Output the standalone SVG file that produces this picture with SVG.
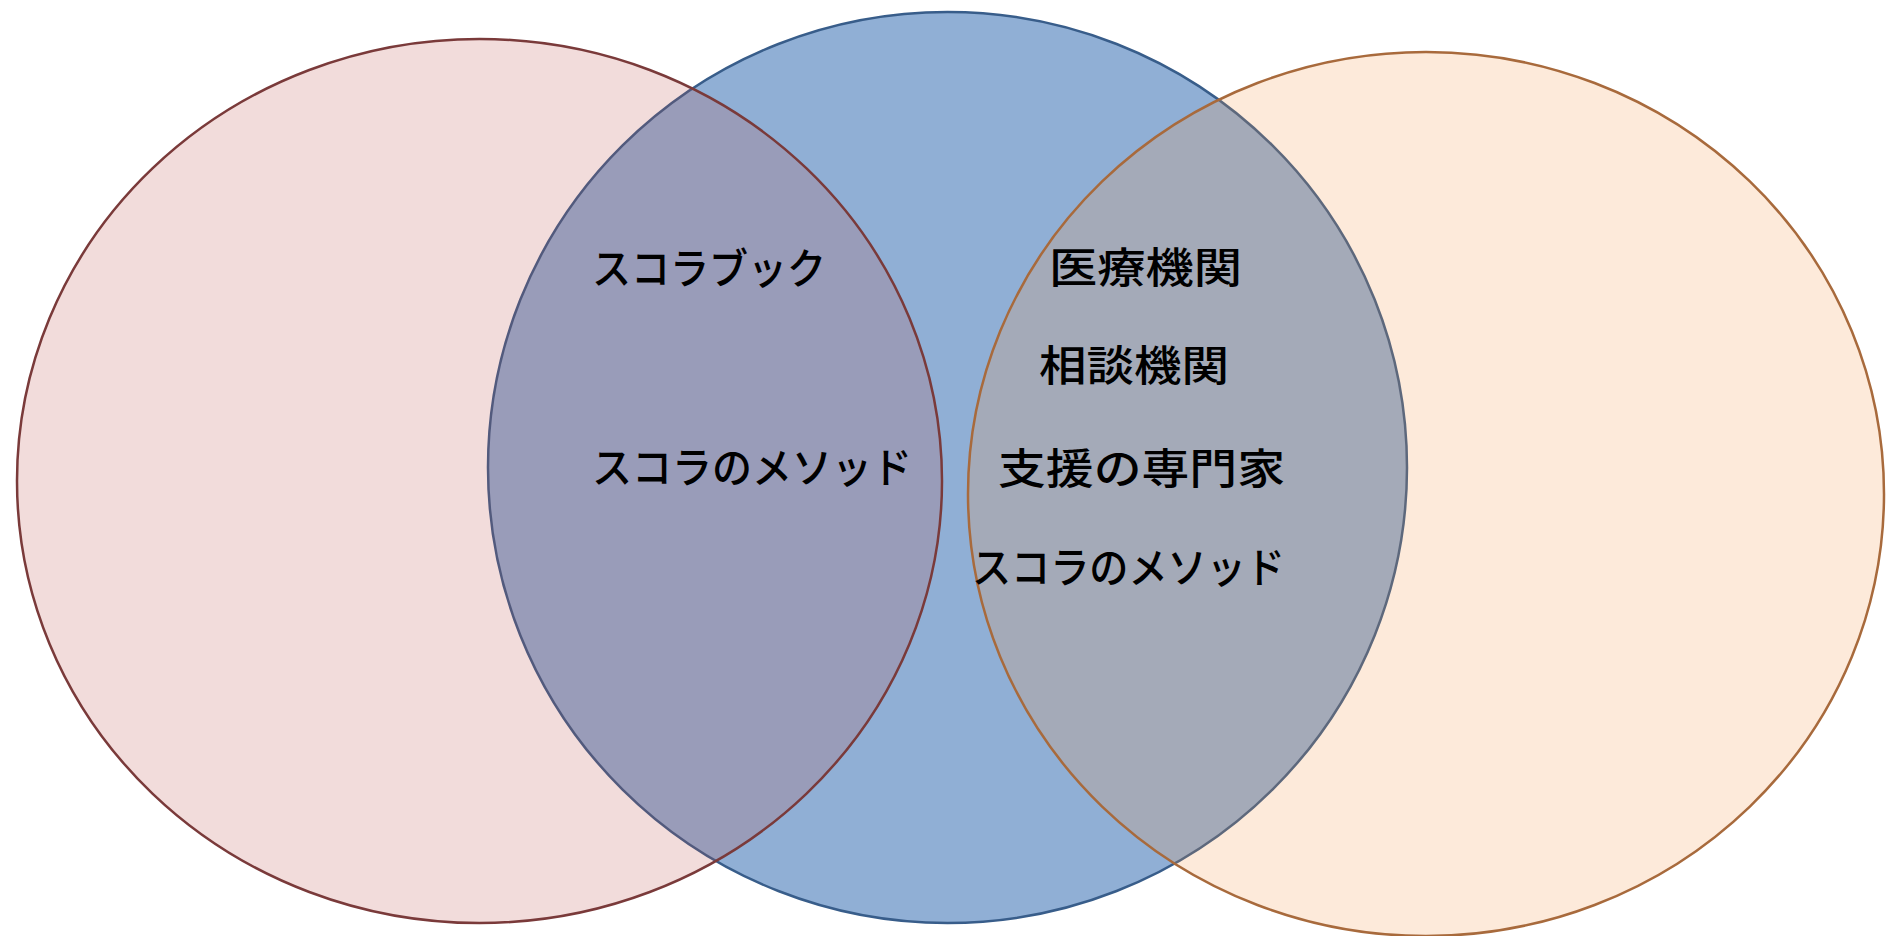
<svg xmlns="http://www.w3.org/2000/svg" width="1890" height="936" viewBox="0 0 1890 936">
<style>
  .lbl { font-family: "Noto Sans CJK JP", "Noto Sans CJK SC", sans-serif; font-size: 42px; font-weight: 500; fill: #000; dominant-baseline: central; }
</style>
<rect width="1890" height="936" fill="#ffffff"/>
<g id="set-middle">
  <ellipse cx="947.5" cy="467.5" rx="459.5" ry="455.5" fill="#4F81BD" fill-opacity="0.63" stroke="#385D8A" stroke-width="2.5"/>
</g>
<g id="set-left">
  <ellipse cx="479.5" cy="481" rx="462.5" ry="442" fill="#C0504D" fill-opacity="0.2" stroke="#7a3a3a" stroke-width="2.5"/>
</g>
<g id="set-right">
  <ellipse cx="1426" cy="494" rx="458" ry="442" fill="#F79646" fill-opacity="0.2" stroke="#a86a3c" stroke-width="2.5"/>
</g>
<g id="connectors"></g>
<g id="labels-left-middle">
  <text class="lbl" x="592" y="265" textLength="234" lengthAdjust="spacingAndGlyphs">スコラブック</text>
  <text class="lbl" x="592" y="464" textLength="320" lengthAdjust="spacingAndGlyphs">スコラのメソッド</text>
</g>
<g id="labels-middle-right">
  <text class="lbl" x="1049" y="264" textLength="193" lengthAdjust="spacingAndGlyphs">医療機関</text>
  <text class="lbl" x="1039" y="362" textLength="190" lengthAdjust="spacingAndGlyphs">相談機関</text>
  <text class="lbl" x="998" y="465" textLength="287" lengthAdjust="spacingAndGlyphs">支援の専門家</text>
  <text class="lbl" x="972" y="564" textLength="313" lengthAdjust="spacingAndGlyphs">スコラのメソッド</text>
</g>
</svg>
